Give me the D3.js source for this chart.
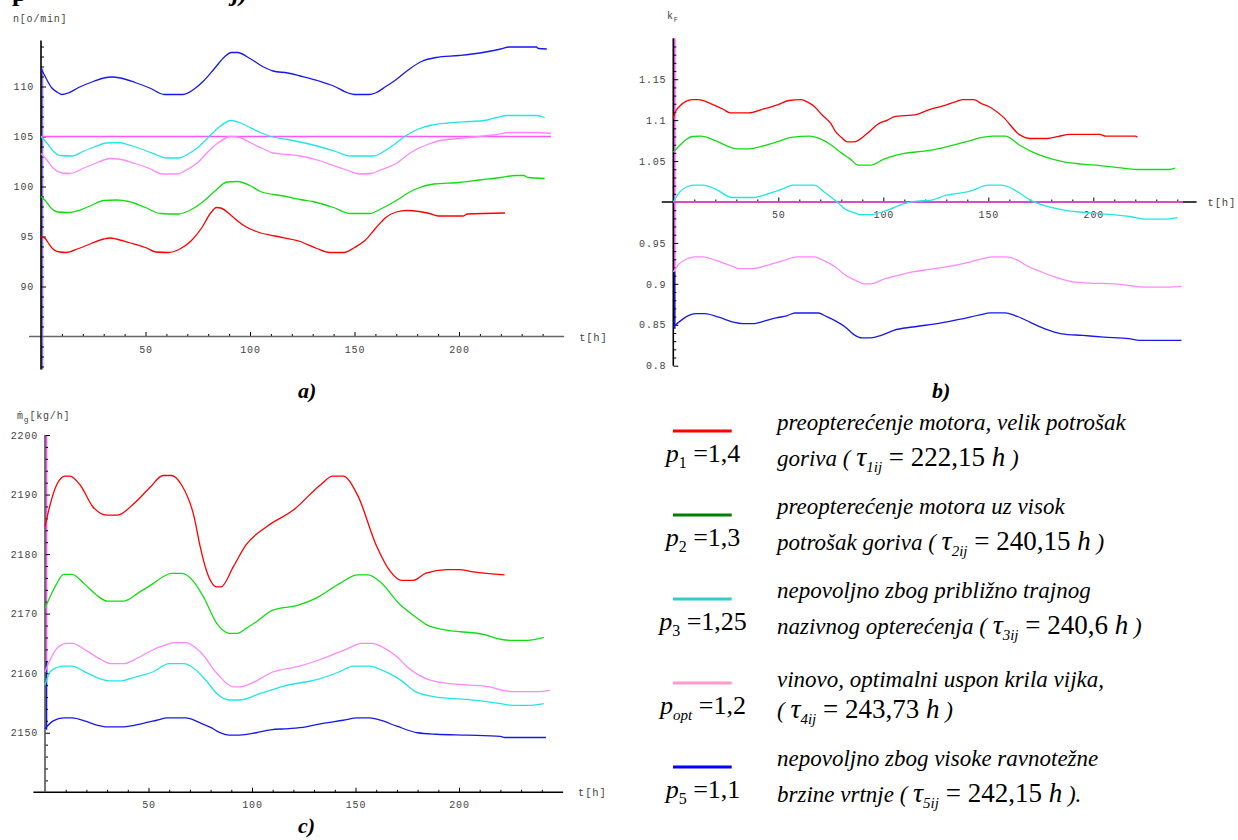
<!DOCTYPE html>
<html><head><meta charset="utf-8">
<script src="https://cdn.jsdelivr.net/npm/d3@7"></script>
<style>
body{margin:0;background:#fff;}
svg{display:block;}
.tk text{font-family:"Liberation Mono","DejaVu Sans Mono",monospace;font-size:10px;fill:#444;letter-spacing:0.8px;}
.tk line{stroke:#000;stroke-width:1;}
.lab{font-family:"Liberation Mono","DejaVu Sans Mono",monospace;font-size:10px;fill:#444;letter-spacing:0.8px;}
</style></head>
<body><svg id="c" width="1238" height="840"></svg>
<script>
// ---------------- DATA ----------------
const tMajor = [50,100,150,200];
// panel a: n [o/min]
const nTicks = [90,95,100,105,110];
const nRed = [[0,95.0],[2,94.8],[4,94.2],[6,93.7],[9,93.45],[12,93.4],[18,93.8],[24,94.3],[30,94.75],[33,94.85],[36,94.75],[42,94.4],[50,93.9],[55,93.45],[61,93.4],[66,93.7],[72,94.6],[77,95.9],[81,97.3],[84,97.9],[86,97.85],[91,97.1],[97,96.1],[103,95.5],[112,95.05],[124,94.5],[132,93.8],[138,93.4],[145,93.4],[150,93.9],[155,94.6],[160,95.8],[165,96.9],[170,97.45],[175,97.6],[181,97.5],[186,97.3],[190,97.05],[202,97.05],[204,97.25],[222,97.35]];
const nGreen = [[0,99.0],[2,98.6],[5,97.8],[8,97.45],[13,97.4],[18,97.6],[24,98.1],[30,98.6],[36,98.65],[42,98.5],[50,97.9],[57,97.3],[66,97.25],[71,97.6],[77,98.4],[83,99.5],[89,100.45],[94,100.5],[100,100.1],[105,99.5],[116,99.05],[124,98.7],[130,98.5],[140,97.9],[148,97.3],[157,97.3],[163,97.8],[170,98.6],[176,99.4],[180,99.8],[188,100.25],[200,100.4],[210,100.65],[220,100.9],[227,101.1],[231,101.1],[233,100.9],[241,100.8]];
const nCyan = [[0,105],[3,104.3],[6,103.5],[9,103.1],[15,103.05],[20,103.5],[26,104.0],[31,104.35],[37,104.4],[43,104.1],[50,103.6],[56,103.1],[60,102.85],[66,102.85],[70,103.2],[75,103.9],[80,104.9],[85,105.9],[91,106.6],[95,106.4],[100,105.9],[105,105.4],[110,105.0],[118,104.7],[124,104.45],[133,104.0],[141,103.5],[148,103.05],[159,103.05],[164,103.5],[169,104.2],[174,105.0],[180,105.7],[187,106.15],[195,106.35],[205,106.5],[212,106.6],[218,106.9],[223,107.1],[237,107.1],[241,106.9]];
const nPink = [[0,103.3],[3,102.6],[6,101.8],[10,101.35],[14,101.3],[20,101.8],[27,102.4],[33,102.8],[37,102.75],[45,102.3],[52,101.8],[58,101.25],[65,101.25],[70,101.7],[75,102.4],[80,103.5],[85,104.4],[91,105.0],[95,104.9],[100,104.4],[106,103.8],[111,103.35],[118,103.2],[124,103.05],[133,102.6],[140,102.1],[147,101.6],[152,101.25],[158,101.3],[163,101.7],[170,102.3],[175,103.1],[179,103.65],[185,104.2],[191,104.6],[200,104.8],[210,105.0],[218,105.2],[224,105.4],[237,105.4],[244,105.3]];
const nBlue = [[0,111.8],[2,111.0],[5,109.9],[8,109.4],[10,109.2],[13,109.35],[18,109.9],[25,110.5],[30,110.85],[34,110.95],[38,110.85],[45,110.4],[52,109.85],[59,109.2],[68,109.2],[73,109.7],[78,110.6],[83,111.8],[88,113.0],[91,113.4],[94,113.4],[100,112.8],[106,112.0],[111,111.55],[118,111.35],[124,111.05],[133,110.55],[140,110.05],[147,109.35],[150,109.2],[157,109.2],[160,109.35],[165,110.0],[170,110.7],[176,111.7],[182,112.5],[189,112.9],[200,113.1],[210,113.35],[220,113.75],[224,113.95],[237,113.95],[238,113.8],[242,113.75]];
const nRef = [[0,105],[244,105]];
// panel b: kF
const kTicks = [0.8,0.85,0.9,0.95,1.05,1.1,1.15];
const kRed = [[0,1.102],[1,1.11],[3,1.117],[6,1.123],[9,1.125],[12,1.125],[18,1.12],[24,1.113],[27,1.109],[36,1.109],[42,1.113],[50,1.119],[55,1.124],[61,1.125],[64,1.122],[67,1.117],[71,1.106],[75,1.096],[77,1.087],[80,1.079],[83,1.0735],[86,1.0735],[92,1.083],[98,1.096],[102,1.1],[105,1.104],[116,1.107],[122,1.113],[128,1.117],[135,1.123],[138,1.125],[143,1.125],[147,1.12],[150,1.117],[157,1.104],[165,1.082],[170,1.0776],[178,1.0776],[183,1.08],[189,1.0825],[203,1.0825],[206,1.0804],[220,1.0804],[221,1.079]];
const kGreen = [[0,1.061],[3,1.069],[6,1.076],[9,1.08],[13,1.0804],[20,1.075],[26,1.068],[30,1.065],[36,1.065],[42,1.068],[50,1.074],[56,1.079],[65,1.0804],[70,1.077],[75,1.07],[80,1.06],[84,1.053],[88,1.045],[94,1.045],[100,1.052],[110,1.0593],[122,1.063],[130,1.0674],[140,1.074],[146,1.0784],[152,1.0804],[158,1.0804],[165,1.0694],[172,1.06],[177,1.0551],[186,1.049],[201,1.045],[212,1.042],[221,1.0397],[236,1.0397],[239,1.0413]];
const kCyan = [[0,1.0],[3,1.012],[6,1.018],[10,1.0205],[14,1.0205],[20,1.016],[28,1.0055],[38,1.0055],[45,1.01],[52,1.016],[57,1.0205],[67,1.0205],[72,1.012],[78,1.0],[82,0.991],[86,0.987],[89,0.9846],[94,0.9846],[102,0.99],[110,0.998],[116,1.001],[122,1.002],[130,1.0083],[141,1.013],[150,1.0205],[156,1.0205],[160,1.018],[164,1.0124],[171,1.001],[175,0.997],[186,0.99],[202,0.986],[218,0.982],[225,0.979],[233,0.979],[240,0.981]];
const kPink = [[0,0.9146],[3,0.925],[7,0.931],[10,0.933],[14,0.933],[20,0.929],[28,0.9215],[31,0.9187],[38,0.9187],[45,0.923],[52,0.928],[59,0.933],[67,0.933],[72,0.928],[77,0.921],[82,0.9105],[87,0.904],[91,0.9],[94,0.9],[101,0.9065],[108,0.911],[114,0.9146],[122,0.9176],[130,0.9207],[140,0.926],[146,0.93],[152,0.933],[158,0.933],[164,0.929],[168,0.9227],[175,0.915],[181,0.909],[189,0.903],[198,0.901],[210,0.9],[217,0.898],[224,0.896],[236,0.896],[242,0.897]];
const kBlue = [[0,0.8473],[4,0.856],[8,0.862],[11,0.8637],[15,0.8637],[22,0.859],[29,0.853],[33,0.8515],[38,0.8515],[44,0.855],[49,0.8584],[54,0.861],[58,0.8644],[69,0.8644],[73,0.86],[77,0.855],[82,0.847],[86,0.838],[90,0.834],[94,0.834],[99,0.837],[105,0.8433],[114,0.8473],[127,0.852],[137,0.857],[146,0.862],[151,0.8645],[158,0.8645],[163,0.861],[170,0.853],[177,0.845],[185,0.839],[195,0.837],[205,0.835],[217,0.833],[222,0.831],[242,0.831]];
const kRef = [[0,1.0],[242.7,1.0]];
// panel c: mg [kg/h]
const mTicks = [2150,2160,2170,2180,2190,2200];
const mRed = [[0,2184.6],[2.4,2188.2],[5.6,2191.6],[9.7,2193.1],[12,2193.1],[17,2191.6],[23,2188],[30,2186.55],[35,2186.55],[43,2188.5],[51,2191.3],[57,2193.2],[61,2193.2],[66,2191.6],[72,2186.3],[75,2181.2],[78,2177.2],[83,2174.5],[85,2174.5],[91,2177.9],[97,2181.5],[107,2184.6],[120,2187.4],[133,2191.6],[139,2193.1],[144,2193.1],[151,2189.9],[160,2181.5],[167,2177],[172,2175.6],[178,2175.6],[184,2176.8],[194,2177.4],[200,2177.4],[207,2177],[222,2176.5]];
const mGreen = [[0,2170.9],[2.4,2172.8],[5.6,2175],[9,2176.6],[13,2176.6],[19,2175],[25,2173.1],[30,2172.1],[38,2172.1],[46,2173.7],[52,2175],[57,2176.2],[61,2176.75],[66,2176.75],[72,2175.3],[77,2172.5],[83,2168.35],[89,2166.7],[93,2166.7],[97,2167.5],[102,2168.6],[110,2170.6],[122,2171.4],[131,2172.6],[142,2175],[151,2176.5],[156,2176.5],[162,2175.3],[171,2171.7],[180,2169.2],[184,2168.2],[192,2167.35],[212,2166.5],[220,2165.7],[226,2165.5],[233,2165.5],[241,2166]];
const mCyan = [[0,2158],[2.4,2160.2],[6,2161],[9,2161.2],[13,2161.2],[20,2160.1],[27,2159],[31,2158.7],[36,2158.7],[44,2159.4],[52,2160.2],[60,2161.6],[67,2161.6],[72,2160.8],[78,2158.7],[83,2156.6],[89,2155.5],[94,2155.5],[104,2156.6],[115,2157.8],[133,2159.1],[142,2160.2],[149,2161.2],[157,2161.2],[160,2160.9],[166,2160],[172,2158.8],[179,2156.9],[189,2156],[204,2155.6],[220,2154.9],[226,2154.6],[234,2154.6],[241,2154.9]];
const mPink = [[0,2160.2],[2.4,2162.2],[6.4,2164.4],[10.5,2165],[13,2165],[20,2163.8],[27,2162.3],[32,2161.6],[38,2161.6],[45,2162.6],[52,2163.9],[58,2164.7],[62,2165.15],[68,2165.15],[75,2163.6],[83,2160],[91,2157.7],[94,2157.7],[99,2158.2],[110,2160.2],[123,2161.2],[133,2162.3],[146,2164.1],[153,2165],[158,2165],[164,2164.2],[170,2162.75],[175,2161.05],[184,2159.1],[192,2158.4],[215,2157.7],[221,2157.1],[227,2156.9],[238,2156.9],[244,2157.1]];
const mBlue = [[0,2150.7],[4,2152],[9,2152.5],[13,2152.5],[20,2151.9],[25,2151.3],[30,2151],[38,2151],[47,2151.55],[54,2152.1],[59,2152.5],[68,2152.5],[75,2151.65],[80,2150.9],[84,2150.1],[89,2149.6],[94,2149.6],[102,2150],[109,2150.5],[118,2150.7],[126,2151],[133,2151.5],[144,2152.1],[151,2152.5],[157,2152.5],[162,2152.1],[170,2151.1],[180,2150],[189,2149.75],[204,2149.6],[220,2149.4],[222,2149.2],[242,2149.2]];
// start-up spikes drawn along the y axes [low, high]
const nStubs = [[81.7,111.8]];
const kStubs = [[0.915,1.2],[0.845,0.915]];
const mStubs = [[2160,2200],[2150.5,2162]];
// legend
const legendColors = ["#ff0000","#008000","#33cccc","#ff99cc","#0000ff"];
const pSub = ["1","2","3","opt","5"];
const pVal = ["1,4","1,3","1,25","1,2","1,1"];
const desc1 = ["preopterećenje motora, velik potrošak","preopterećenje motora uz visok","nepovoljno zbog približno trajnog","vinovo, optimalni uspon krila vijka,","nepovoljno zbog visoke ravnotežne"];
const desc2 = ["goriva (","potrošak goriva (","nazivnog opterećenja (","(","brzine vrtnje ("];
const tauSub = ["1ij","2ij","3ij","4ij","5ij"];
const tauVal = ["222,15","240,15","240,6","243,73","242,15"];
const tauEnd = [" )"," )"," )"," )"," )."];

// ---------------- DRAW ----------------
const SERIF = "'Liberation Serif','Times New Roman','DejaVu Serif',serif";
const svg = d3.select("#c");
const C = {red:"#ff0000", green:"#11dd11", cyan:"#22e6e6", pink:"#ff88ff", blue:"#1818ee", ref:"#ff55ff", stubA:"#8877ee"};

function panel(o){
  const g = svg.append("g");
  const x = o.x, y = o.y;
  const x0 = x(0), yO = y(o.origin);
  o.stubs.forEach((s,i)=>{
    g.append("line").attr("x1",x0+1.3).attr("x2",x0+1.3).attr("y1",y(s[0])).attr("y2",y(s[1]))
     .attr("stroke",o.stubColors[i]).attr("stroke-width",2);
  });
  g.append("g").attr("class","tk").attr("transform",`translate(0,${yO})`)
    .call(d3.axisBottom(x).tickValues(d3.range(10,250,10).filter(d=>d%50)).tickSize(-2.5).tickFormat(""))
    .call(a=>a.select(".domain").remove());
  g.append("g").attr("class","tk").attr("transform",`translate(${x0},0)`)
    .call(d3.axisLeft(y).tickValues(o.minor).tickSize(-3).tickFormat(""))
    .call(a=>a.select(".domain").remove());
  g.append("g").attr("class","tk").attr("transform",`translate(0,${yO})`)
    .call(d3.axisBottom(x).tickValues(tMajor).tickSize(-4.5).tickPadding(9).tickFormat(d3.format("d")))
    .call(a=>a.select(".domain").remove());
  g.append("g").attr("class","tk").attr("transform",`translate(${x0},0)`)
    .call(d3.axisLeft(y).tickValues(o.ticks).tickSize(-5).tickPadding(7).tickFormat(o.fmt))
    .call(a=>a.select(".domain").remove());
  g.append("line").attr("x1",x(o.xExt[0])).attr("x2",x(o.xExt[1])).attr("y1",yO).attr("y2",yO)
    .attr("stroke",o.xAxisColor).attr("stroke-width",1.4);
  g.append("line").attr("x1",x0).attr("x2",x0).attr("y1",y(o.yExt[0])).attr("y2",y(o.yExt[1]))
    .attr("stroke",o.yAxisColor).attr("stroke-width",1.6);
  if(o.ref) g.append("path").datum(o.ref).attr("fill","none").attr("stroke",C.ref).attr("stroke-width",1.3)
    .attr("d",d3.line().x(d=>x(d[0])).y(d=>y(d[1])));
  const line = d3.line().x(d=>x(d[0])).y(d=>y(d[1])).curve(d3.curveMonotoneX);
  o.series.forEach(s=>{
    g.append("path").datum(s.data).attr("fill","none").attr("stroke",s.color).attr("stroke-width",1.3).attr("d",line);
  });
  g.append("text").attr("class","lab").attr("x",x(o.xExt[1])+o.thDx).attr("y",yO+4).style("font-size","10.5px").text("t[h]");
  return g;
}

// Panel a
const xA = d3.scaleLinear().domain([0,250]).range([41,563.5]);
const yA = d3.scaleLinear().domain([85,110]).range([336.5,86.5]);
panel({x:xA,y:yA,origin:85,ticks:nTicks,minor:d3.range(82,115,1).filter(d=>d%5),fmt:d3.format("d"),
  xExt:[-5.7,250.3],yExt:[81.7,114.6],xAxisColor:"#666",yAxisColor:"#000",thDx:15,
  stubs:nStubs,stubColors:[C.stubA],ref:nRef,
  series:[{data:nRed,color:C.red},{data:nGreen,color:C.green},{data:nCyan,color:C.cyan},{data:nPink,color:C.pink},{data:nBlue,color:C.blue}]});
svg.append("text").attr("class","lab").attr("x",13).attr("y",22).text("n[o/min]");

// Panel b
const xB = d3.scaleLinear().domain([0,250]).range([673.3,1198.3]);
const yB = d3.scaleLinear().domain([0.8,1.2]).range([365.7,38.3]);
panel({x:xB,y:yB,origin:1.0,ticks:kTicks,minor:d3.range(80,121).filter(d=>d%5).map(d=>d/100),fmt:d=>String(+d.toFixed(2)),
  xExt:[-5.5,249.2],yExt:[0.8,1.2],xAxisColor:"#000",yAxisColor:"#000",thDx:11,
  stubs:kStubs,stubColors:[C.ref,C.blue],ref:kRef,
  series:[{data:kRed,color:C.red},{data:kGreen,color:C.green},{data:kCyan,color:C.cyan},{data:kPink,color:C.pink},{data:kBlue,color:C.blue}]});
const kl = svg.append("text").attr("class","lab").attr("x",667).attr("y",19);
kl.append("tspan").text("k");
kl.append("tspan").attr("dy",3).style("font-size","7px").text("F");

// Panel c
const xC = d3.scaleLinear().domain([0,250]).range([45,562.5]);
const yC = d3.scaleLinear().domain([2140,2200]).range([792.3,435]);
panel({x:xC,y:yC,origin:2140,ticks:mTicks,minor:d3.range(2142,2200,2).filter(d=>d%10),fmt:d3.format("d"),
  xExt:[-5.6,250.3],yExt:[2140,2200],xAxisColor:"#000",yAxisColor:"#555",thDx:15,
  stubs:mStubs,stubColors:[C.ref,C.blue],ref:null,
  series:[{data:mRed,color:C.red},{data:mGreen,color:C.green},{data:mPink,color:C.pink},{data:mCyan,color:C.cyan},{data:mBlue,color:C.blue}]});
const ml = svg.append("text").attr("class","lab").attr("x",17).attr("y",419);
ml.append("tspan").text("ṁ");
ml.append("tspan").attr("dy",3).style("font-size","8px").text("g");
ml.append("tspan").attr("dy",-3).text("[kg/h]");

// panel captions
[["a)",298,398],["b)",932,398],["c)",298,833]].forEach(c=>{
  svg.append("text").attr("x",c[1]).attr("y",c[2]).style("font-family",SERIF)
    .style("font-size","22px").style("font-weight","bold").style("font-style","italic").text(c[0]);
});
// clipped text from the paragraph above (only descenders visible)
svg.append("text").attr("x",12).attr("y",1).style("font-family",SERIF).style("font-weight","bold").style("font-size","26px").text("p");
svg.append("text").attr("x",232).attr("y",1).style("font-family",SERIF).style("font-weight","bold").style("font-size","26px").style("font-style","italic").text("j)");

// legend
const lg = svg.append("g").style("font-family",SERIF);
legendColors.forEach((col,i)=>{
  const ly = 431 + i*84;
  lg.append("line").attr("x1",673).attr("x2",731.7).attr("y1",ly).attr("y2",ly).attr("stroke",col).attr("stroke-width",3);
  const pt = lg.append("text").attr("x",703).attr("y",ly+31).attr("text-anchor","middle").style("font-family",SERIF).style("font-size","26px");
  pt.append("tspan").style("font-style","italic").text("p");
  pt.append("tspan").attr("dy",6).style("font-size",pSub[i]==="opt"?"15px":"16px").style("font-style",pSub[i]==="opt"?"italic":"normal").text(pSub[i]);
  pt.append("tspan").attr("dy",-6).text(" =" + pVal[i]);
  lg.append("text").attr("x",777).attr("y",ly-1 + (i===3?5:0)).style("font-family",SERIF)
    .style("font-size","23px").style("font-style","italic").text(desc1[i]);
  const t2 = lg.append("text").attr("x",777).attr("y",ly+35).style("font-family",SERIF).style("font-size","23px");
  t2.append("tspan").style("font-style","italic").text(desc2[i]+" ");
  t2.append("tspan").style("font-style","italic").style("font-size","28px").text("τ");
  t2.append("tspan").attr("dy",6).style("font-size","15px").style("font-style","italic").text(tauSub[i]);
  t2.append("tspan").attr("dy",-6).style("font-size","27px").text(" = "+tauVal[i]);
  t2.append("tspan").style("font-size","27px").style("font-style","italic").text(" h");
  t2.append("tspan").style("font-style","italic").text(tauEnd[i]);
});
</script></body></html>
